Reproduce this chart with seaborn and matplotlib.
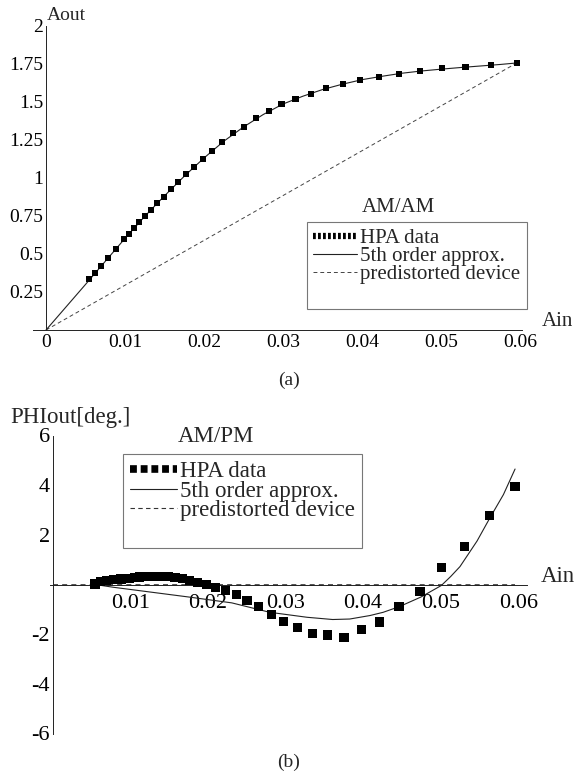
import matplotlib
matplotlib.use("Agg")
import matplotlib.pyplot as plt
import seaborn as sns
import pandas as pd
from matplotlib.ticker import MultipleLocator, FuncFormatter
from matplotlib.lines import Line2D

# ---------------- data ----------------
ain = [0.00548, 0.00620, 0.00696, 0.00785, 0.00882, 0.00987, 0.01054, 0.01118,
       0.01181, 0.01253, 0.01325, 0.01405, 0.01490, 0.01578, 0.01671, 0.01768,
       0.01873, 0.01984, 0.02105, 0.02228, 0.02367, 0.02506, 0.02658, 0.02819,
       0.02981, 0.03158, 0.03351, 0.03548, 0.03756, 0.03978, 0.04215, 0.04465,
       0.04734, 0.05013, 0.05308, 0.05629, 0.05958]
aout = [0.334, 0.373, 0.421, 0.474, 0.531, 0.597, 0.632, 0.669, 0.709, 0.750,
        0.792, 0.833, 0.877, 0.926, 0.974, 1.026, 1.074, 1.127, 1.180, 1.235,
        1.294, 1.336, 1.393, 1.441, 1.485, 1.518, 1.551, 1.590, 1.618, 1.646,
        1.667, 1.686, 1.704, 1.724, 1.732, 1.746, 1.757]
phi = [0.02, 0.12, 0.17, 0.20, 0.22, 0.25, 0.28, 0.30, 0.31, 0.32, 0.33, 0.33,
       0.32, 0.29, 0.24, 0.17, 0.09, 0.00, -0.11, -0.24, -0.40, -0.66, -0.89,
       -1.22, -1.48, -1.72, -1.97, -2.03, -2.13, -1.82, -1.51, -0.89, -0.27,
       0.70, 1.52, 2.79, 3.96]

am_fit_x = [0.0, 0.0025, 0.005, 0.0075, 0.01, 0.0125, 0.015, 0.0175, 0.02,
            0.0225, 0.025, 0.0275, 0.03, 0.0325, 0.035, 0.0375, 0.04, 0.0425,
            0.045, 0.0475, 0.05, 0.0525, 0.055, 0.0575, 0.0596]
am_fit_y = [0.0, 0.15, 0.30, 0.452, 0.603, 0.748, 0.883, 1.012, 1.132, 1.242,
            1.336, 1.418, 1.487, 1.538, 1.582, 1.617, 1.647, 1.669, 1.689,
            1.704, 1.716, 1.727, 1.737, 1.747, 1.757]
pm_fit_x = [0.0055, 0.0078, 0.0177, 0.0231, 0.0280, 0.0328, 0.0361, 0.0383,
            0.0409, 0.0426, 0.0447, 0.0475, 0.0501, 0.0513, 0.0525, 0.0547,
            0.0563, 0.0581, 0.0596]
pm_fit_y = [0.0, -0.11, -0.51, -0.74, -1.12, -1.32, -1.41, -1.39, -1.25, -1.12,
            -0.89, -0.50, -0.04, 0.32, 0.72, 1.75, 2.65, 3.62, 4.65]

am_pre_x = [0.0, 0.05958]
am_pre_y = [0.0, 1.757]
pm_pre_x = [0.0, 0.05958]
pm_pre_y = [0.0, 0.0]

legend_labels = ["HPA data", "5th order approx.", "predistorted device"]

# ---------------- style ----------------
sns.set_style("white")
plt.rcParams["font.family"] = ["Liberation Serif", "DejaVu Serif"]
plt.rcParams["axes.unicode_minus"] = False

W, H = 574, 775
fig = plt.figure(figsize=(W / 100, H / 100), dpi=100)


def fx(x):
    return x / W


def fy(y):
    return 1 - y / H


def style_axes(ax, fs, xpad, ypad):
    for s in ["top", "right"]:
        ax.spines[s].set_visible(False)
    ax.spines["left"].set_position(("data", 0))
    ax.spines["bottom"].set_position(("data", 0))
    for s in ["left", "bottom"]:
        ax.spines[s].set_linewidth(0.7)
        ax.spines[s].set_color("#222222")
    ax.tick_params(which="both", direction="in", colors="#222222", width=0.6,
                   labelcolor="black", labelsize=fs)
    ax.tick_params(which="major", length=3.8)
    ax.tick_params(which="minor", length=2.0)
    ax.tick_params(axis="x", pad=xpad)
    ax.tick_params(axis="y", pad=ypad)
    ax.set_xlabel("")
    ax.set_ylabel("")


def fmt_skip0(v, pos):
    if abs(v) < 1e-12:
        return ""
    return "%g" % round(v, 6)


def fmt_all(v, pos):
    return "%g" % round(v, 6)


# ---------------- top panel: AM/AM ----------------
ax1 = fig.add_axes([fx(33), fy(330), fx(488.7), 304 / H])
sns.lineplot(x=am_pre_x, y=am_pre_y, ax=ax1, color="#444444", lw=0.7,
             linestyle=(0, (4, 3)), estimator=None, sort=False)
sns.lineplot(x=am_fit_x, y=am_fit_y, ax=ax1, color="#222222", lw=0.8,
             estimator=None, sort=False)
sns.scatterplot(x=ain, y=aout, ax=ax1, marker="s", s=20, color="black",
                edgecolor="none", linewidth=0, legend=False, zorder=5,
                clip_on=False)
ax1.set_xlim(-0.00165, 0.0602)
ax1.set_ylim(0, 2)
style_axes(ax1, 14, 3.0, 2.0)
ax1.spines["left"].set_bounds(0, 2)
ax1.xaxis.set_major_locator(MultipleLocator(0.01))
ax1.xaxis.set_minor_locator(MultipleLocator(0.002))
ax1.yaxis.set_major_locator(MultipleLocator(0.25))
ax1.yaxis.set_minor_locator(MultipleLocator(0.05))
ax1.xaxis.set_major_formatter(FuncFormatter(fmt_all))
ax1.yaxis.set_major_formatter(FuncFormatter(fmt_skip0))

h1 = [Line2D([], [], color="black", lw=4.5, linestyle=(0, (0.45, 0.35))),
      Line2D([], [], color="#222222", lw=0.8),
      Line2D([], [], color="#444444", lw=0.7, linestyle=(0, (4, 3))),
      Line2D([], [], color="none", lw=0)]
leg1 = ax1.legend(h1, legend_labels + [" "], loc="upper left",
                  bbox_to_anchor=(fx(307), fy(222)), bbox_transform=fig.transFigure,
                  borderaxespad=0, frameon=True, fancybox=False, framealpha=1,
                  edgecolor="#777777", fontsize=15, handlelength=2.1,
                  handletextpad=0.15, borderpad=0.3, labelspacing=-0.06)
leg1.get_frame().set_linewidth(0.8)
fig.text(fx(398), fy(207), "AM/AM", ha="center", va="center", fontsize=15)
fig.text(fx(47), fy(15), "Aout", ha="left", va="center", fontsize=14)
fig.text(fx(542), fy(321), "Ain", ha="left", va="center", fontsize=15)
fig.text(fx(289), fy(380), "(a)", ha="center", va="center", fontsize=14)

# ---------------- bottom panel: AM/PM ----------------
ax2 = fig.add_axes([fx(50.2), fy(733.5), fx(476.5), 298 / H])
sns.lineplot(x=pm_pre_x, y=pm_pre_y, ax=ax2, color="#333333", lw=1.2,
             linestyle=(0, (3, 2.5)), estimator=None, sort=False)
sns.lineplot(x=pm_fit_x, y=pm_fit_y, ax=ax2, color="#222222", lw=0.8,
             estimator=None, sort=False)
sns.scatterplot(x=ain, y=phi, ax=ax2, marker="s", s=44, color="black",
                edgecolor="none", linewidth=0, legend=False, zorder=5)
ax2.set_xlim(-0.0003, 0.0611)
ax2.set_ylim(-6, 6)
style_axes(ax2, 16, 7.0, 2.0)
ax2.xaxis.set_major_locator(MultipleLocator(0.01))
ax2.xaxis.set_minor_locator(MultipleLocator(0.002))
ax2.yaxis.set_major_locator(MultipleLocator(2))
ax2.yaxis.set_minor_locator(MultipleLocator(0.4))
ax2.xaxis.set_major_formatter(FuncFormatter(fmt_skip0))
ax2.yaxis.set_major_formatter(FuncFormatter(fmt_skip0))

h2 = [Line2D([], [], color="black", lw=5.5, linestyle=(0, (0.9, 0.5))),
      Line2D([], [], color="#222222", lw=0.8),
      Line2D([], [], color="#333333", lw=0.8, linestyle=(0, (4, 3))),
      Line2D([], [], color="none", lw=0)]
leg2 = ax2.legend(h2, legend_labels + [" "], loc="upper left",
                  bbox_to_anchor=(fx(123), fy(454)), bbox_transform=fig.transFigure,
                  borderaxespad=0, frameon=True, fancybox=False, framealpha=1,
                  edgecolor="#777777", fontsize=16.5, handlelength=2.05,
                  handletextpad=0.15, borderpad=0.3, labelspacing=-0.06)
leg2.get_frame().set_linewidth(0.8)
fig.text(fx(216), fy(437), "AM/PM", ha="center", va="center", fontsize=16.5)
fig.text(fx(10), fy(418), "PHIout[deg.]", ha="left", va="center", fontsize=16.5)
fig.text(fx(541), fy(577), "Ain", ha="left", va="center", fontsize=16.5)
fig.text(fx(289), fy(762), "(b)", ha="center", va="center", fontsize=14)

fig.savefig("out.png", dpi=100)
